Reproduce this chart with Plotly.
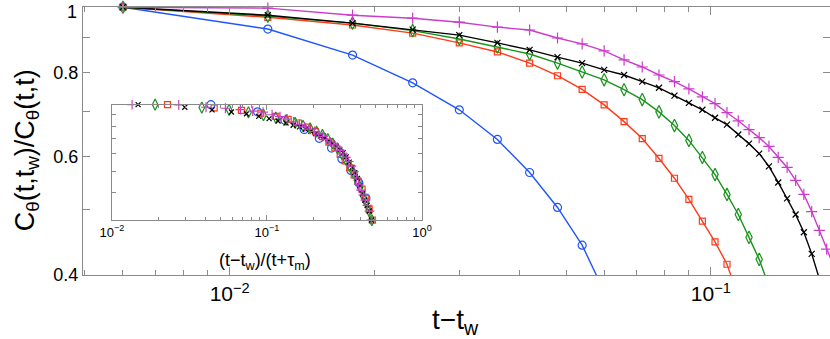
import numpy as np
import plotly.graph_objects as go

# time step of the sampling in t - t_w
dt = 0.006

# C(t,tw)/C(t,t), one list per waiting time (sample k -> t-tw = k*dt)
c_blue = [1.0, 0.928, 0.849, 0.772, 0.704, 0.636, 0.568, 0.504, 0.443, 0.378]
c_red = [1.0, 0.966, 0.941, 0.915, 0.885, 0.858, 0.826, 0.791, 0.755, 0.716,
         0.676, 0.638, 0.596, 0.557, 0.518, 0.481, 0.448, 0.415, 0.375, 0.335, 0.30]
c_green = [1.0, 0.970, 0.947, 0.923, 0.897, 0.873, 0.852, 0.826, 0.801, 0.780,
           0.754, 0.729, 0.699, 0.667, 0.634, 0.598, 0.564, 0.527, 0.492, 0.455,
           0.422, 0.385, 0.36, 0.33, 0.30]
c_black = [1.0, 0.973, 0.947, 0.926, 0.909, 0.885, 0.864, 0.843, 0.826, 0.807,
           0.793, 0.775, 0.759, 0.739, 0.721, 0.704, 0.685, 0.669, 0.647, 0.627,
           0.606, 0.580, 0.549, 0.520, 0.492, 0.463, 0.430, 0.395, 0.37, 0.35,
           0.33, 0.30]
c_magenta = [1.0, 0.997, 0.973, 0.963, 0.950, 0.934, 0.925, 0.900, 0.882, 0.861,
             0.835, 0.815, 0.793, 0.775, 0.756, 0.736, 0.719, 0.697, 0.678, 0.658,
             0.640, 0.621, 0.598, 0.578, 0.553, 0.527, 0.497, 0.466, 0.437, 0.41,
             0.39, 0.37, 0.35, 0.33, 0.30]

# t + tau_m used for the rescaled inset
scale_blue, scale_red, scale_green, scale_black, scale_magenta = 0.138, 0.263, 0.316, 0.407, 0.445

series = [
    (c_blue, scale_blue, '#1f55ff', 'circle-open', 8, 8),
    (c_red, scale_red, '#ff3a1a', 'square-open', 6, 6),
    (c_green, scale_green, '#17941a', 'diamond-tall-open', 9, 8),
    (c_black, scale_black, '#000000', 'x-thin-open', 6, 5),
    (c_magenta, scale_magenta, '#cc3ccc', 'cross-thin-open', 8, 7),
]

GRAY = '#8a8a8a'
FONT = 'Liberation Sans, Arial, sans-serif'

fig = go.Figure()

for vals, scale, color, sym, size, isize in series:
    s = dt * np.arange(1, len(vals) + 1)
    fig.add_trace(go.Scatter(
        x=s, y=vals, mode='lines+markers', cliponaxis=False,
        line=dict(color=color, width=1.4),
        marker=dict(symbol=sym, size=size, color=color, line=dict(color=color, width=1.2)),
        xaxis='x', yaxis='y', showlegend=False))

# inset: collapsed data
for vals, scale, color, sym, size, isize in series:
    s = dt * np.arange(1, len(vals) + 1)
    fig.add_trace(go.Scatter(
        x=s / scale, y=vals, mode='markers', cliponaxis=False,
        marker=dict(symbol=sym, size=isize, color=color, line=dict(color=color, width=1.2)),
        xaxis='x2', yaxis='y2', showlegend=False))

minor_main_x = [0.005, 0.006, 0.007, 0.008, 0.009, 0.02, 0.03, 0.04, 0.05, 0.06, 0.07, 0.08, 0.09]
minor_inset_x = [0.02, 0.03, 0.04, 0.05, 0.06, 0.07, 0.08, 0.09, 0.2, 0.3, 0.4, 0.5, 0.6, 0.7, 0.8, 0.9]

axis_common = dict(showline=True, linecolor=GRAY, linewidth=1.3, mirror='ticks',
                   ticks='inside', tickcolor=GRAY, showgrid=False, zeroline=False,
                   automargin=False, ticklabeloverflow='allow')

fig.update_layout(
    width=830, height=339,
    margin=dict(l=83, r=0, t=7, b=64),
    paper_bgcolor='white', plot_bgcolor='white',
    font=dict(family=FONT, color='black'),
    xaxis=dict(
        type='log', range=[-2.3049, -0.7525], domain=[0, 1], anchor='y', ticklen=8,
        tickvals=[0.01, 0.1], ticktext=['10<sup>\u22122</sup>', '10<sup>\u22121</sup>'],
        tickfont=dict(size=21),
        minor=dict(tickvals=minor_main_x, ticks='inside', ticklen=5, tickcolor=GRAY, showgrid=False),
        **axis_common,
    ),
    yaxis=dict(
        type='log', range=[np.log10(0.4), 0.0003], domain=[0, 1], anchor='x', ticklen=7,
        tickvals=[0.4, 0.6, 0.8, 1], ticktext=['0.4', '0.6', '0.8', ''],
        tickfont=dict(size=18),
        minor=dict(tickvals=[0.5, 0.7, 0.9], ticks='inside', ticklen=7, tickcolor=GRAY, showgrid=False),
        **axis_common,
    ),
    xaxis2=dict(
        type='log', range=[-2, 0], domain=[0.0388, 0.4538], anchor='y2', ticklen=5,
        tickvals=[0.01, 0.1, 1], ticktext=['10<sup>\u22122</sup>', '10<sup>\u22121</sup>', '10<sup>0</sup>'],
        tickfont=dict(size=13),
        minor=dict(tickvals=minor_inset_x, ticks='inside', ticklen=3, tickcolor=GRAY, showgrid=False),
        **axis_common,
    ),
    yaxis2=dict(
        type='log', range=[np.log10(0.3), 0], domain=[0.2045, 0.6357], anchor='x2', ticklen=4,
        tickvals=[0.3, 0.4, 0.5, 0.6, 0.7, 0.8, 0.9], showticklabels=False,
        **axis_common,
    ),
    annotations=[
        # top tick label of the y axis, nudged so it stays inside the page
        dict(text='1', xref='paper', yref='paper', x=-0.007, y=1.022,
             xanchor='right', yanchor='top', showarrow=False, font=dict(size=18), borderpad=0),
        dict(text='t\u2212t<sub>w</sub>', xref='paper', yref='paper', x=0.498, y=-0.10,
             xanchor='center', yanchor='top', showarrow=False, font=dict(size=28)),
        dict(text='C<sub>\u03b8</sub>(t,t<sub>w</sub>)/C<sub>\u03b8</sub>(t,t)', xref='paper', yref='paper',
             x=-0.075, y=0.465, xanchor='center', yanchor='middle', textangle=-90,
             showarrow=False, font=dict(size=27)),
        dict(text='(t\u2212t<sub>w</sub>)/(t+\u03c4<sub>m</sub>)', xref='paper', yref='paper',
             x=0.2436, y=0.10, xanchor='center', yanchor='top', showarrow=False, font=dict(size=18)),
    ],
)

# drop the browser's default page margin so the figure sits at the window corner
fig.write_html("out.html", config={'displayModeBar': False},
               post_script="document.body.style.margin='0';")
